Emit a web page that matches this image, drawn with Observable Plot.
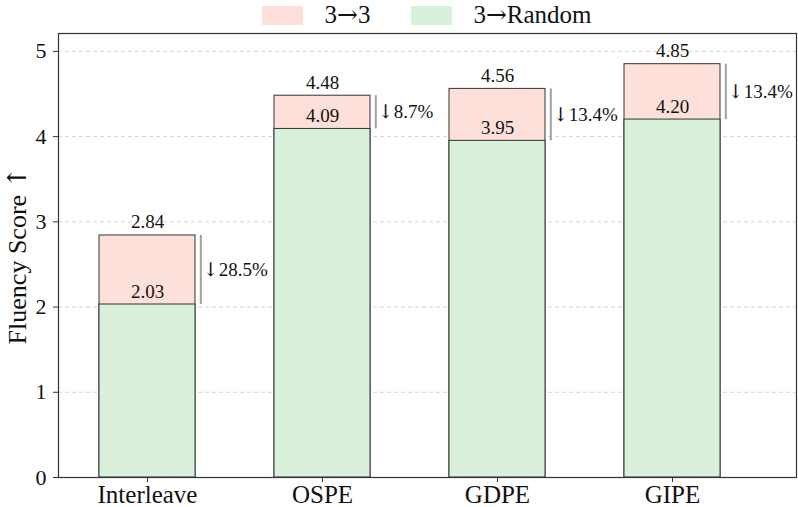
<!DOCTYPE html>
<html>
<head>
<meta charset="utf-8">
<script src="https://cdn.jsdelivr.net/npm/d3@7"></script>
<script src="https://cdn.jsdelivr.net/npm/@observablehq/plot@0.6"></script>
<style>
  html, body { margin: 0; padding: 0; background: #fff; }
  body { width: 798px; height: 507px; overflow: hidden; font-family: "Liberation Serif", "Times New Roman", serif; }
  #legend { position: relative; height: 32px; width: 738px; margin-left: 58px; display: flex; justify-content: center; align-items: center; }
  .item { display: flex; align-items: center; font-size: 25px; line-height: 28px; color: #111; margin-top: -2px; }
  .item + .item { margin-left: 41px; }
  .sw { width: 41px; height: 19px; margin-right: 21px; }
  .arrow { font-family: "DejaVu Serif", serif; }
  #chart svg { display: block; }
</style>
</head>
<body>
<div id="legend"></div>
<div id="chart"></div>
<script>
const categories = ["Interleave", "OSPE", "GDPE", "GIPE"];
const scoreSame = [2.84, 4.48, 4.56, 4.85];     // 3→3
const scoreRandom = [2.03, 4.09, 3.95, 4.20];   // 3→Random
const dropLabels = ["↓28.5%", "↓8.7%", "↓13.4%", "↓13.4%"];
const yTicks = [0, 1, 2, 3, 4, 5];
const seriesNames = ["3→3", "3→Random"];
const seriesColors = ["#fde0d9", "#d9f1da"];
const yLabel = "Fluency Score ↑";

const rows = categories.map((c, i) => ({
  cat: c, same: scoreSame[i], random: scoreRandom[i], drop: dropLabels[i]
}));

const arrowRe = /([↑↓→])/;
const arrowFont = "DejaVu Serif, serif";

// legend
const legend = document.getElementById("legend");
seriesNames.forEach((name, i) => {
  const item = document.createElement("div");
  item.className = "item";
  const sw = document.createElement("div");
  sw.className = "sw";
  sw.style.background = seriesColors[i];
  const t = document.createElement("span");
  name.split(arrowRe).forEach(part => {
    if (!part) return;
    if (arrowRe.test(part)) {
      const a = document.createElement("span");
      a.className = "arrow";
      a.textContent = part;
      t.appendChild(a);
    } else {
      t.appendChild(document.createTextNode(part));
    }
  });
  item.appendChild(sw);
  item.appendChild(t);
  legend.appendChild(item);
});

const edge = "#333333";
const half = 48.3;

const chart = Plot.plot({
  width: 798,
  height: 475,
  marginLeft: 58,
  marginRight: 2,
  marginTop: 1,
  marginBottom: 30,
  style: { fontFamily: "Liberation Serif, Times New Roman, serif", color: "#111", background: "#fff" },
  x: { domain: categories, range: [58.3, 761], paddingInner: 0.45, paddingOuter: 0.225, align: 0.5, label: null },
  y: { domain: [0, 5.21], label: null },
  marks: [
    Plot.gridY(yTicks.filter(t => t > 0), { stroke: "#d4d4d4", strokeOpacity: 1, strokeDasharray: "4,3", strokeWidth: 1 }),
    Plot.barY(rows, { x: "cat", y: "same", fill: seriesColors[0], stroke: edge, strokeWidth: 1 }),
    Plot.barY(rows, { x: "cat", y: "random", fill: seriesColors[1], stroke: edge, strokeWidth: 1 }),
    Plot.ruleX(rows, { x: "cat", y1: "random", y2: "same", dx: half + 5, stroke: "#a0a0a0", strokeWidth: 2 }),
    Plot.text(rows, { x: "cat", y: "same", text: d => d.same.toFixed(2), lineAnchor: "bottom", dy: -7, fontSize: 19, fill: "#111" }),
    Plot.text(rows, { x: "cat", y: "random", text: d => d.random.toFixed(2), lineAnchor: "bottom", dy: -7, fontSize: 19, fill: "#111" }),
    Plot.text(rows, { x: "cat", y: d => (d.same + d.random) / 2, text: "drop", textAnchor: "start", lineAnchor: "middle", dx: half + 7, fontSize: 19, fill: "#111" }),
    Plot.frame({ stroke: edge, strokeWidth: 1.2 }),
    Plot.axisY(yTicks, { tickSize: 5, tickPadding: 7, fontSize: 22, stroke: edge, tickFormat: "d", label: null }),
    Plot.axisX({ tickSize: 5, tickPadding: 3, fontSize: 25, stroke: edge, label: null }),
    Plot.text([yLabel], { frameAnchor: "left", textAnchor: "middle", lineAnchor: "middle", rotate: -90, dx: -41, fontSize: 26, fill: "#111" })
  ]
});

// render arrows with a font that has long, thin arrow glyphs
chart.querySelectorAll("text").forEach(el => {
  if (el.children.length === 0 && arrowRe.test(el.textContent)) {
    const parts = el.textContent.split(arrowRe).filter(p => p);
    el.textContent = "";
    parts.forEach(part => {
      const ts = document.createElementNS("http://www.w3.org/2000/svg", "tspan");
      ts.textContent = part;
      if (arrowRe.test(part)) ts.setAttribute("font-family", arrowFont);
      el.appendChild(ts);
    });
  }
});
document.getElementById("chart").appendChild(chart);
</script>
</body>
</html>
